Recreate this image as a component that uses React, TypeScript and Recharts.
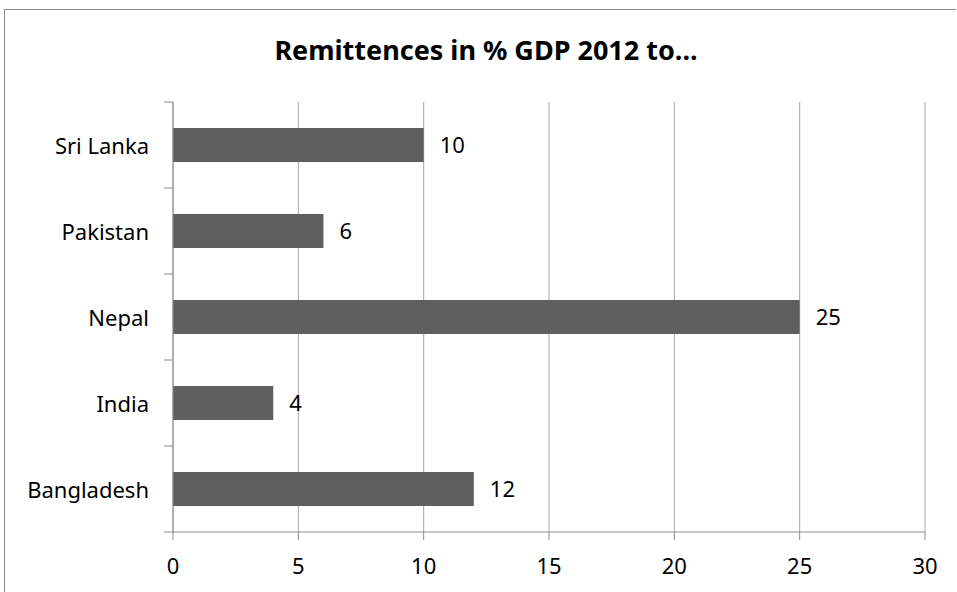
import { BarChart, Bar, XAxis, YAxis, CartesianGrid, LabelList } from "recharts";

const countries = ["Sri Lanka", "Pakistan", "Nepal", "India", "Bangladesh"];
const remittances = [10, 6, 25, 4, 12];
const xTicks = [0, 5, 10, 15, 20, 25, 30];

const data = countries.map((name, i) => ({ name, value: remittances[i] }));

const FONT = "'Noto Sans', 'Open Sans', sans-serif";
const AXIS = "#8c8c8c";

// category ticks sit on band edges like Excel, label in the middle
function CountryTick(props: any) {
  const { x, y, payload, index, visibleTicksCount } = props;
  const half = payload && payload.offset ? payload.offset : 43;
  const axisX = x + 8 + 16;
  const last = index === visibleTicksCount - 1;
  return (
    <g>
      <line x1={axisX - 9} x2={axisX} y1={y - half} y2={y - half} stroke={AXIS} />
      {last && (
        <line x1={axisX - 9} x2={axisX} y1={y + half} y2={y + half} stroke={AXIS} />
      )}
      <text
        x={x}
        y={y}
        textAnchor="end"
        dominantBaseline="central"
        fontFamily={FONT}
        fontSize={22}
        fill="#000"
      >
        {payload.value}
      </text>
    </g>
  );
}

export default function App() {
  return (
    <div
      style={{
        position: "absolute",
        left: 0,
        top: 0,
        width: 957,
        height: 592,
        background: "#fff",
        overflow: "hidden",
      }}
    >
      <div
        style={{
          position: "absolute",
          left: 4,
          top: 9,
          width: 951,
          height: 620,
          borderLeft: "1px solid #8a8a8a",
          borderTop: "1px solid #8a8a8a",
        }}
      />
      <div
        style={{
          position: "absolute",
          left: 0,
          width: 972,
          top: 32,
          textAlign: "center",
          fontFamily: FONT,
          fontWeight: 700,
          fontSize: 27,
          lineHeight: "36px",
          color: "#000",
        }}
      >
        Remittences in % GDP 2012 to...
      </div>
      <BarChart
        width={957}
        height={592}
        data={data}
        layout="vertical"
        margin={{ top: 102, right: 32, bottom: 20, left: 0 }}
        barSize={34}
        style={{ position: "absolute", left: 0, top: 0 }}
      >
        <CartesianGrid horizontal={false} stroke="#a6a6a6" strokeWidth={1} />
        <XAxis
          type="number"
          domain={[0, 30]}
          ticks={xTicks}
          interval={0}
          height={40}
          stroke={AXIS}
          tickSize={8}
          tickMargin={18}
          tick={{ fill: "#000", fontFamily: FONT, fontSize: 22 }}
          allowDecimals={false}
        />
        <YAxis
          type="category"
          dataKey="name"
          width={173}
          stroke={AXIS}
          tickLine={false}
          tickSize={8}
          tickMargin={16}
          interval={0}
          tick={<CountryTick />}
        />
        <Bar dataKey="value" fill="#5f5f5f" isAnimationActive={false}>
          <LabelList
            dataKey="value"
            position="right"
            offset={16}
            fill="#000"
            fontFamily={FONT}
            fontSize={22}
          />
        </Bar>
      </BarChart>
    </div>
  );
}
